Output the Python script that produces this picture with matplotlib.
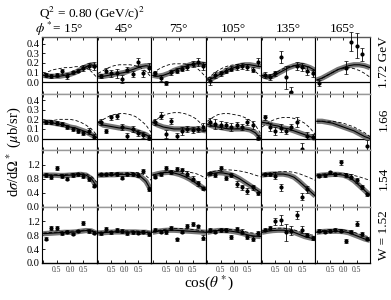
import numpy as np
import matplotlib.pyplot as plt

plt.rcParams['font.family'] = ['Liberation Serif', 'DejaVu Serif']
plt.rcParams['mathtext.fontset'] = 'stix'

# labels
phi_labels = [r'$\phi^*$= 15°', '45°', '75°', '105°', '135°', '165°']
w_labels = ['1.72 GeV', '1.66', '1.54', 'W = 1.52']

# cos(theta*) bin centres for the data, and grid for the model curves
cos_bins = [-0.9, -0.7, -0.5, -0.3, -0.1, 0.1, 0.3, 0.5, 0.7, 0.9]
cos_grid = [-1.0, -0.8, -0.6, -0.4, -0.2, 0.0, 0.2, 0.4, 0.6, 0.8, 1.0]

# ---- W = 1.72 GeV ----
data_172 = [
    [0.07, 0.06, 0.07, 0.11, 0.06, 0.10, 0.12, 0.15, 0.17, 0.17],
    [0.06, 0.12, 0.09, 0.09, 0.03, 0.13, 0.08, 0.21, 0.09, 0.15],
    [0.09, 0.04, -0.01, 0.10, 0.12, 0.14, 0.16, 0.19, 0.21, 0.17],
    [0.01, 0.07, 0.09, 0.12, 0.14, 0.16, 0.17, 0.16, 0.13, 0.21],
    [0.07, 0.05, 0.09, 0.26, 0.05, -0.10, 0.17, 0.16, 0.12, 0.09],
    [-0.01, None, None, None, None, 0.15, 0.42, 0.38, 0.29, None],
]
err_172 = [
    [0.02, 0.02, 0.02, 0.03, 0.03, 0.02, 0.02, 0.03, 0.03, 0.04],
    [0.02, 0.03, 0.04, 0.05, 0.04, 0.03, 0.03, 0.04, 0.04, 0.05],
    [0.03, 0.03, 0.02, 0.03, 0.03, 0.03, 0.03, 0.03, 0.04, 0.04],
    [0.04, 0.03, 0.03, 0.03, 0.03, 0.03, 0.03, 0.03, 0.03, 0.04],
    [0.03, 0.03, 0.03, 0.06, 0.12, 0.05, 0.04, 0.04, 0.05, 0.04],
    [0.03, None, None, None, None, 0.07, 0.10, 0.13, 0.07, None],
]
band_172 = [
    [0.07, 0.06, 0.06, 0.06, 0.07, 0.08, 0.10, 0.13, 0.16, 0.18, 0.16],
    [0.06, 0.06, 0.07, 0.08, 0.09, 0.10, 0.12, 0.14, 0.16, 0.17, 0.16],
    [0.07, 0.06, 0.07, 0.09, 0.12, 0.14, 0.16, 0.18, 0.19, 0.19, 0.18],
    [0.02, 0.04, 0.07, 0.10, 0.13, 0.15, 0.17, 0.18, 0.18, 0.17, 0.16],
    [0.07, 0.05, 0.06, 0.09, 0.12, 0.15, 0.17, 0.18, 0.17, 0.15, 0.12],
    [0.02, 0.04, 0.07, 0.10, 0.13, 0.15, 0.17, 0.18, 0.18, 0.17, 0.15],
]
dash_172 = [
    [0.08, 0.11, 0.13, 0.14, 0.15, 0.15, 0.16, 0.16, 0.15, 0.11, 0.05],
    [0.09, 0.12, 0.15, 0.17, 0.18, 0.18, 0.18, 0.17, 0.15, 0.11, 0.05],
    [0.09, 0.13, 0.16, 0.18, 0.19, 0.19, 0.19, 0.18, 0.16, 0.11, 0.05],
    [0.03, 0.08, 0.12, 0.15, 0.17, 0.18, 0.18, 0.17, 0.15, 0.11, 0.06],
    [0.05, 0.06, 0.08, 0.11, 0.14, 0.16, 0.17, 0.16, 0.14, 0.10, 0.05],
    [0.02, 0.04, 0.07, 0.10, 0.13, 0.14, 0.15, 0.14, 0.12, 0.09, 0.05],
]

# ---- W = 1.66 GeV ----
data_166 = [
    [0.17, 0.17, 0.16, 0.15, 0.12, 0.10, 0.08, 0.06, 0.08, 0.02],
    [0.17, 0.08, 0.22, 0.23, 0.12, 0.03, 0.10, 0.06, 0.04, 0.01],
    [0.17, 0.24, 0.05, 0.18, 0.03, 0.08, 0.10, 0.09, 0.10, 0.12],
    [0.17, 0.15, 0.14, 0.14, 0.12, 0.14, 0.12, 0.17, 0.14, 0.01],
    [0.22, 0.12, 0.08, 0.11, 0.08, 0.12, 0.17, -0.11, 0.03, 0.02],
    [None, None, None, None, None, None, None, None, None, -0.08],
]
err_166 = [
    [0.02, 0.02, 0.02, 0.02, 0.02, 0.02, 0.02, 0.02, 0.03, 0.03],
    [0.03, 0.02, 0.03, 0.03, 0.03, 0.03, 0.03, 0.03, 0.03, 0.03],
    [0.03, 0.04, 0.04, 0.03, 0.03, 0.04, 0.03, 0.03, 0.03, 0.04],
    [0.04, 0.05, 0.04, 0.03, 0.04, 0.03, 0.03, 0.03, 0.04, 0.03],
    [0.03, 0.04, 0.04, 0.04, 0.03, 0.03, 0.05, 0.06, 0.04, 0.03],
    [None, None, None, None, None, None, None, None, None, 0.06],
]
band_166 = [
    [0.17, 0.17, 0.16, 0.15, 0.14, 0.12, 0.11, 0.09, 0.07, 0.04, 0.01],
    [0.17, 0.14, 0.13, 0.12, 0.11, 0.11, 0.10, 0.08, 0.06, 0.04, 0.00],
    [0.17, 0.14, 0.12, 0.11, 0.10, 0.10, 0.10, 0.10, 0.10, 0.09, 0.08],
    [0.15, 0.13, 0.12, 0.11, 0.10, 0.10, 0.10, 0.10, 0.09, 0.06, 0.00],
    [0.17, 0.16, 0.14, 0.13, 0.11, 0.10, 0.08, 0.06, 0.04, 0.02, 0.00],
    [0.18, 0.18, 0.17, 0.16, 0.14, 0.12, 0.10, 0.08, 0.05, 0.02, 0.00],
]
dash_166 = [
    [0.18, 0.19, 0.19, 0.20, 0.20, 0.20, 0.19, 0.17, 0.14, 0.10, 0.04],
    [0.17, 0.20, 0.23, 0.25, 0.26, 0.26, 0.25, 0.23, 0.19, 0.14, 0.06],
    [0.18, 0.21, 0.24, 0.26, 0.27, 0.27, 0.26, 0.24, 0.21, 0.16, 0.08],
    [0.18, 0.22, 0.25, 0.26, 0.26, 0.25, 0.24, 0.22, 0.19, 0.14, 0.05],
    [0.12, 0.16, 0.19, 0.21, 0.22, 0.22, 0.21, 0.19, 0.16, 0.11, 0.04],
    [0.18, 0.18, 0.18, 0.18, 0.17, 0.16, 0.14, 0.12, 0.09, 0.06, 0.02],
]

# ---- W = 1.54 GeV ----
data_154 = [
    [0.90, 0.85, 1.10, 0.88, 0.80, 0.90, 0.92, 0.88, 0.80, 0.60],
    [0.92, 0.92, 0.94, 0.94, 0.83, 0.92, 0.92, 0.90, 1.02, 0.50],
    [0.86, 0.92, 1.10, 1.00, 1.07, 1.04, 0.94, 0.80, 0.66, 0.52],
    [0.95, 0.90, 1.10, 0.82, 0.90, 0.65, 0.55, 0.45, 0.55, 0.38],
    [0.92, 0.92, 0.88, 0.55, None, None, None, 0.28, 0.50, None],
    [0.88, 0.90, 0.98, 0.92, 1.27, 0.90, 0.86, 0.75, 0.55, 0.35],
]
err_154 = [
    [0.05, 0.05, 0.05, 0.05, 0.05, 0.05, 0.05, 0.05, 0.06, 0.05],
    [0.05, 0.05, 0.05, 0.06, 0.05, 0.05, 0.05, 0.05, 0.05, 0.05],
    [0.05, 0.05, 0.06, 0.06, 0.06, 0.07, 0.07, 0.08, 0.07, 0.05],
    [0.05, 0.05, 0.07, 0.06, 0.06, 0.08, 0.08, 0.08, 0.08, 0.05],
    [0.05, 0.05, 0.10, 0.10, None, None, None, 0.10, 0.10, None],
    [0.04, 0.04, 0.05, 0.05, 0.07, 0.05, 0.06, 0.07, 0.06, 0.04],
]
band_154 = [
    [0.90, 0.90, 0.90, 0.89, 0.89, 0.90, 0.91, 0.92, 0.90, 0.80, 0.58],
    [0.90, 0.90, 0.91, 0.91, 0.92, 0.92, 0.92, 0.91, 0.86, 0.72, 0.45],
    [0.90, 0.94, 0.97, 0.98, 0.96, 0.92, 0.86, 0.78, 0.68, 0.58, 0.48],
    [0.90, 0.95, 0.97, 0.96, 0.93, 0.88, 0.80, 0.70, 0.60, 0.50, 0.40],
    [0.90, 0.92, 0.93, 0.93, 0.93, 0.90, 0.84, 0.72, 0.58, 0.44, 0.30],
    [0.88, 0.90, 0.91, 0.92, 0.92, 0.90, 0.84, 0.74, 0.60, 0.46, 0.32],
]
dash_154 = [
    [0.90, 0.90, 0.91, 0.91, 0.92, 0.93, 0.95, 0.96, 0.94, 0.86, 0.70],
    [0.92, 0.92, 0.93, 0.94, 0.95, 0.96, 0.97, 0.98, 0.96, 0.88, 0.75],
    [0.90, 0.95, 0.98, 1.00, 1.01, 1.01, 1.00, 0.98, 0.95, 0.89, 0.80],
    [0.95, 1.00, 1.03, 1.05, 1.05, 1.04, 1.02, 0.99, 0.95, 0.90, 0.85],
    [0.92, 0.95, 0.97, 0.99, 1.00, 1.00, 0.98, 0.94, 0.88, 0.82, 0.75],
    [0.92, 0.93, 0.94, 0.95, 0.95, 0.95, 0.93, 0.89, 0.85, 0.80, 0.75],
]

# ---- W = 1.52 GeV ----
data_152 = [
    [0.70, 1.00, 1.00, 0.85, 0.90, 0.83, 0.92, 1.15, 0.92, 0.87],
    [0.85, 0.98, 0.88, 0.95, 0.92, 0.85, 0.88, 0.87, 0.90, 0.82],
    [0.96, 0.90, 0.88, 1.00, 0.68, 0.90, 1.05, 1.12, 1.05, 0.73],
    [0.95, 0.90, 0.95, 0.95, 0.75, 0.98, 0.90, 0.75, 0.70, 0.85],
    [0.96, 1.00, 1.20, 1.23, 0.88, 0.93, 1.38, 0.95, 0.80, 0.72],
    [0.93, 0.90, 0.93, 0.96, 0.93, 0.63, 0.90, 1.13, 0.83, 0.70],
]
err_152 = [
    [0.04, 0.05, 0.05, 0.04, 0.05, 0.04, 0.04, 0.05, 0.05, 0.04],
    [0.05, 0.05, 0.05, 0.05, 0.05, 0.05, 0.05, 0.05, 0.05, 0.05],
    [0.05, 0.05, 0.05, 0.05, 0.05, 0.05, 0.06, 0.06, 0.05, 0.06],
    [0.05, 0.05, 0.05, 0.05, 0.05, 0.06, 0.07, 0.06, 0.06, 0.06],
    [0.04, 0.05, 0.10, 0.15, 0.25, 0.12, 0.12, 0.10, 0.06, 0.05],
    [0.04, 0.04, 0.05, 0.05, 0.05, 0.05, 0.05, 0.07, 0.05, 0.05],
]
band_152 = [
    [0.84, 0.85, 0.86, 0.87, 0.88, 0.88, 0.89, 0.91, 0.93, 0.92, 0.85],
    [0.86, 0.87, 0.88, 0.89, 0.89, 0.89, 0.89, 0.89, 0.88, 0.88, 0.85],
    [0.88, 0.91, 0.93, 0.94, 0.94, 0.93, 0.92, 0.91, 0.90, 0.89, 0.88],
    [0.88, 0.91, 0.93, 0.93, 0.92, 0.90, 0.87, 0.83, 0.79, 0.77, 0.76],
    [0.88, 0.91, 0.93, 0.94, 0.94, 0.92, 0.88, 0.82, 0.76, 0.72, 0.70],
    [0.88, 0.90, 0.91, 0.91, 0.91, 0.90, 0.87, 0.81, 0.75, 0.69, 0.65],
]
dash_152 = [
    [0.86, 0.87, 0.88, 0.89, 0.90, 0.91, 0.92, 0.93, 0.95, 0.94, 0.88],
    [0.88, 0.89, 0.90, 0.91, 0.91, 0.92, 0.92, 0.92, 0.91, 0.90, 0.88],
    [0.90, 0.93, 0.96, 0.98, 0.99, 0.99, 0.98, 0.97, 0.95, 0.93, 0.90],
    [0.90, 0.93, 0.95, 0.96, 0.96, 0.95, 0.93, 0.90, 0.87, 0.85, 0.84],
    [0.92, 0.95, 0.98, 1.00, 1.00, 0.98, 0.95, 0.90, 0.85, 0.81, 0.79],
    [0.90, 0.93, 0.95, 0.96, 0.96, 0.95, 0.92, 0.88, 0.83, 0.78, 0.75],
]

rows = [
    (data_172, err_172, band_172, dash_172),
    (data_166, err_166, band_166, dash_166),
    (data_154, err_154, band_154, dash_154),
    (data_152, err_152, band_152, dash_152),
]
row_ylim = [(-0.12, 0.47), (-0.12, 0.47), (0, 1.62), (0, 1.62)]
row_yticks = [[0, 0.1, 0.2, 0.3, 0.4], [0, 0.1, 0.2, 0.3, 0.4],
              [0, 0.4, 0.8, 1.2], [0, 0.4, 0.8, 1.2]]

W, H = 391, 300
fig = plt.figure(figsize=(W / 100, H / 100), dpi=100)

left, right, top, bottom = 42, 370, 37, 263
cw = (right - left) / 6
rh = (bottom - top) / 4

for r, (dat, err, band, dash) in enumerate(rows):
    for c in range(6):
        ax = fig.add_axes([(left + c * cw) / W, 1 - (top + (r + 1) * rh) / H,
                           cw / W, rh / H])
        ax.set_xlim(-1.05, 1.0)
        ax.set_ylim(*row_ylim[r])
        if r < 2:
            ax.axhline(0, color='k', lw=0.9, zorder=1)
        # model band (grey) with central line, second model dashed
        ax.plot(cos_grid, band[c], color='#777777', lw=3.8,
                solid_capstyle='butt', zorder=2)
        ax.plot(cos_grid, band[c], color='k', lw=0.8, zorder=3)
        ax.plot(cos_grid, dash[c], color='k', lw=0.6, ls=(0, (4, 2.5)), zorder=3)
        y = np.array(dat[c], dtype=float)
        e = np.array(err[c], dtype=float)
        eb = ax.errorbar(cos_bins, y, yerr=e, fmt='o', ms=2, color='k',
                         ecolor='k', elinewidth=0.6, capsize=1.5,
                         capthick=0.5, zorder=4)
        for art in eb.get_children():
            art.set_clip_on(False)

        for s in ['top', 'bottom']:
            ax.spines[s].set_color('0.6')
            ax.spines[s].set_linewidth(1.0)
        for s in ['left', 'right']:
            ax.spines[s].set_linewidth(0.8)
        if r == 3:
            ax.spines['bottom'].set_color('k')
        if r == 0:
            ax.spines['top'].set_color('0.35')

        ax.set_xticks([-1, -0.5, 0, 0.5])
        ax.tick_params(axis='x', direction='in', top=True, bottom=True,
                       length=2.5, width=0.6, pad=2)
        if r == 3:
            ax.set_xticklabels(['', '0.5', '0.0', '0.5'], fontsize=5.5,
                               color='0.25')
        else:
            ax.set_xticklabels([])
        ax.set_yticks(row_yticks[r])
        ax.tick_params(axis='y', direction='in', left=(c == 0), right=False,
                       length=2.5, width=0.6, pad=1.5, labelsize=7.5)
        if c == 0:
            ax.set_yticklabels(['%.1f' % v for v in row_yticks[r]])
        else:
            ax.set_yticklabels([])

# column headers and row labels
fig.text(92 / W, 1 - 13 / H, r'Q$^2$ = 0.80 (GeV/c)$^2$', ha='center',
         va='center', fontsize=9.5)
for c, lab in enumerate(phi_labels):
    xc = left + (c + 0.5) * cw
    if c == 0:
        fig.text(35 / W, 1 - 29 / H, lab, ha='left', va='center', fontsize=9.5)
    else:
        fig.text(xc / W, 1 - 29 / H, lab, ha='center', va='center', fontsize=9.5)

w_ypos = [62, 119, 178, 235]
for lab, yc in zip(w_labels, w_ypos):
    fig.text(384 / W, 1 - yc / H, lab, rotation=90, ha='center',
             va='center', fontsize=9.5)

fig.text(14 / W, 1 - 152 / H, r'd$\sigma$/d$\Omega^*$ ($\mu$b/sr)',
         rotation=90, ha='center', va='center', fontsize=10.5)
fig.text(209 / W, 1 - 283 / H, r'cos($\theta^*$)', ha='center',
         va='center', fontsize=11)

fig.savefig('out.png', dpi=100)
